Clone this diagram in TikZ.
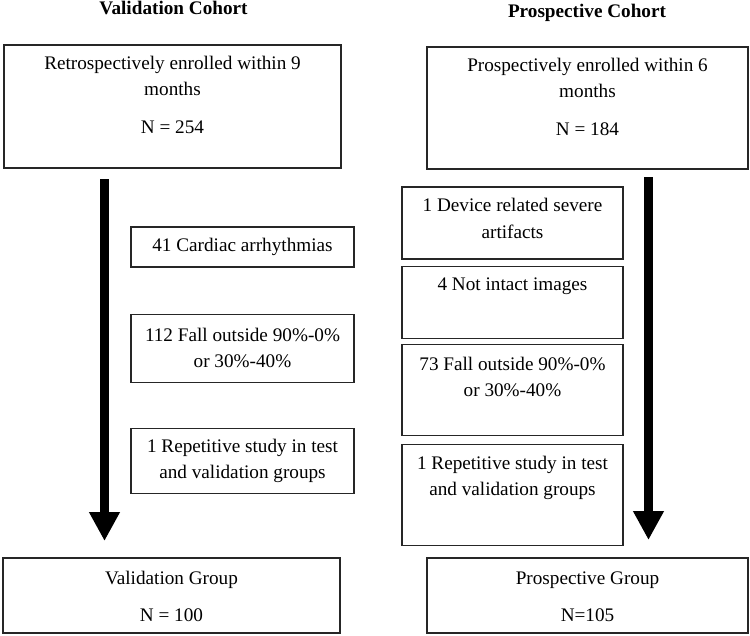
\documentclass[tikz,border=0pt]{standalone}
\usepackage{fontspec}
\setmainfont{Liberation Serif}
\usepackage{tikz}
\usetikzlibrary{positioning,arrows.meta}
\newcommand{\flowfont}{\fontsize{19.2pt}{26.5pt}\selectfont}

\begin{document}
\begin{tikzpicture}[
    x=1pt, y=-1pt,
    box/.style={rectangle, draw=black!85, line width=1.1pt, inner sep=0pt, align=center, font=\flowfont},
    wide/.style={box, minimum width=337pt},
    narrow/.style={box, minimum width=321pt},
    excl/.style={box, minimum width=223pt},
    txt/.style={font=\flowfont, align=center, inner sep=0pt, anchor=north},
    title/.style={font=\flowfont\bfseries, inner sep=0pt, anchor=base},
    flow/.style={-{Triangle[width=29pt,length=29pt]}, line width=9pt}
]
\useasboundingbox (0,0) rectangle (750,635);

% Titles
\node[title] (val-title) at (173.5,14) {Validation Cohort};
\node[title] (pro-title) at (587,17) {Prospective Cohort};

% Validation cohort
\node[wide, minimum height=123pt] (retro) at (172.5,106.5) {};
\node[txt] (retro-txt) at ([yshift=-11.5pt]retro.north) {Retrospectively enrolled within 9\\months\\[11.5pt]N = 254};

\node[excl, minimum height=40pt] (cardiac) at (242.5,247) {41 Cardiac arrhythmias};
\node[excl, minimum height=68pt, below=46pt of cardiac] (fall-val) {112 Fall outside 90\%-0\%\\or 30\%-40\%};
\node[excl, minimum height=65pt, below=45pt of fall-val] (repeat-val) {1 Repetitive study in test\\and validation groups};

\node[wide, minimum height=75pt] (val-group) at (171.5,595.5) {};
\node[txt] (val-group-txt) at ([yshift=-14pt]val-group.north) {Validation Group\\[10.5pt]N = 100};

% Prospective cohort
\node[narrow, minimum height=122pt] (prosp) at (587.5,108) {};
\node[txt] (prosp-txt) at ([yshift=-11.5pt]prosp.north) {Prospectively enrolled within 6\\months\\[11.5pt]N = 184};

\node[box, minimum width=221pt, minimum height=72pt] (device) at (512.5,223) {};
\node[txt] at ([yshift=-12pt]device.north) {1 Device related severe\\artifacts};
\node[box, minimum width=221pt, minimum height=72pt, below=6pt of device] (intact) {};
\node[txt] at ([yshift=-12pt]intact.north) {4 Not intact images};
\node[box, minimum width=221pt, minimum height=91pt, below=5pt of intact] (fall-pro) {};
\node[txt] at ([yshift=-13pt]fall-pro.north) {73 Fall outside 90\%-0\%\\or 30\%-40\%};
\node[box, minimum width=221pt, minimum height=101pt, below=8pt of fall-pro] (repeat-pro) {};
\node[txt] at ([yshift=-12pt]repeat-pro.north) {1 Repetitive study in test\\and validation groups};

\node[narrow, minimum height=75pt] (pro-group) at (587.5,595.5) {};
\node[txt] (pro-group-txt) at ([yshift=-14pt]pro-group.north) {Prospective Group\\[10.5pt]N=105};

% Flow arrows
\coordinate (val-start) at (104.5,179);
\coordinate (val-end) at (104.5,541);
\coordinate (pro-start) at (648.5,177);
\coordinate (pro-end) at (648.5,540);
\draw[flow] (val-start) -- (val-end);
\draw[flow] (pro-start) -- (pro-end);

\end{tikzpicture}
\end{document}
